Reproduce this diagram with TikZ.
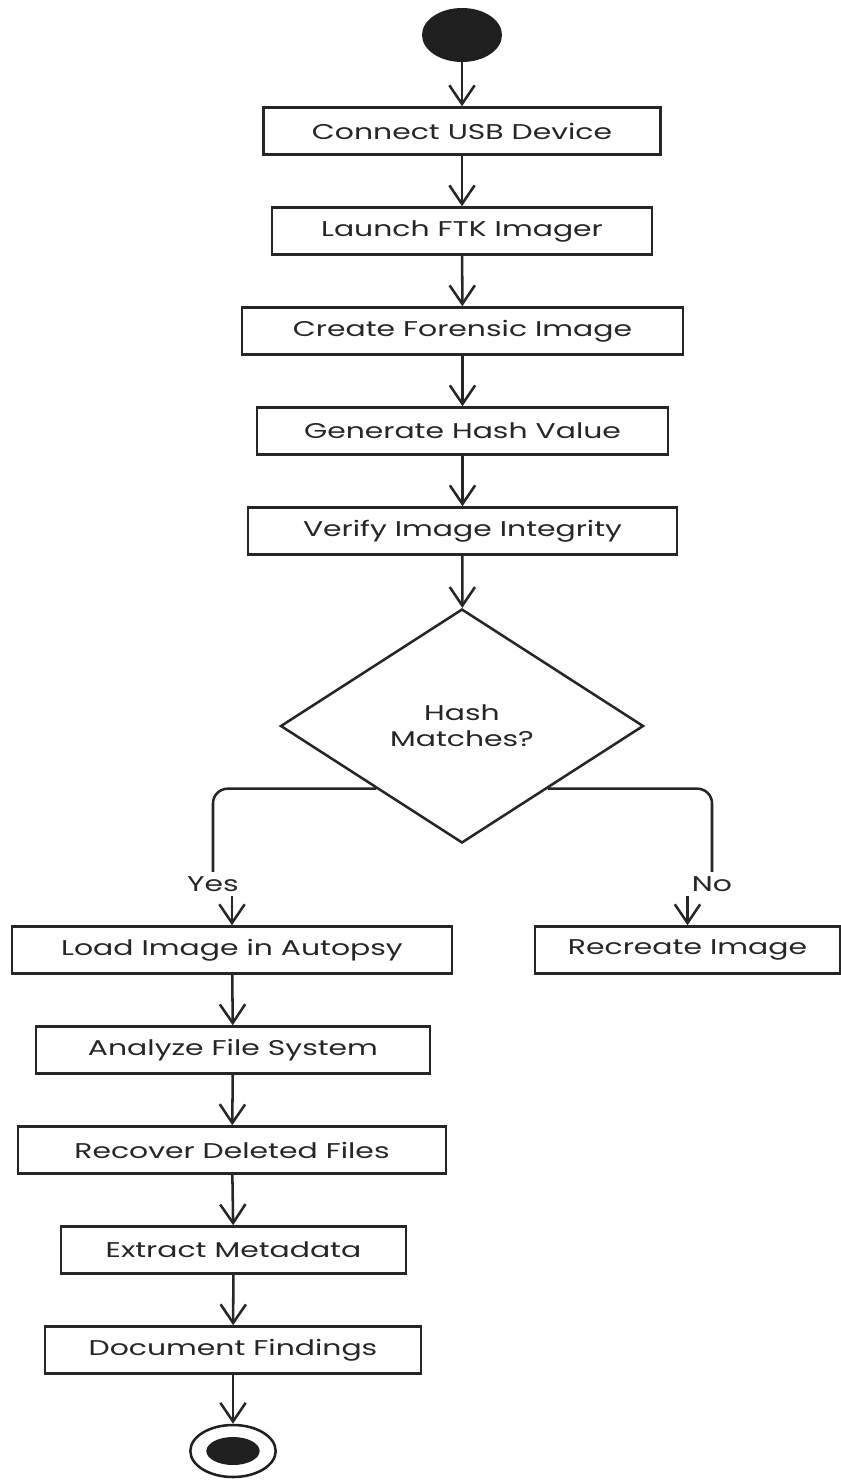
\documentclass[tikz,border=0pt]{standalone}
\usepackage{fontspec}
\setmainfont{Poppins}[FakeStretch=1.4]
\usetikzlibrary{arrows.meta,shapes.geometric,calc}
\begin{document}
\begin{tikzpicture}[x=0.75pt,y=-0.75pt,
  every node/.style={font=\fontsize{16}{19.5}\selectfont, text=black!85},
  actbox/.style={draw=black!85, line width=1.9pt, minimum height=35.25pt, inner sep=0pt},
  arr/.style={draw=black!85, line width=1.9pt, -{Straight Barb[length=14pt,width=19pt,line width=1.9pt]}},
  link/.style={draw=black!85, line width=1.9pt, rounded corners=11pt}]
\useasboundingbox (0,0) rectangle (841,1480);

% start marker
\node[ellipse, fill=black!88, minimum width=60pt, minimum height=40.5pt, inner sep=0pt] (start) at (462,35) {};

% main sequence
\node[actbox, minimum width=297.75pt] (usb) at (462,131) {Connect USB Device};
\node[actbox, minimum width=285pt] (ftk) at (462,231) {Launch FTK Imager};
\node[actbox, minimum width=330.75pt] (img) at (462.5,331) {Create Forensic Image};
\node[actbox, minimum width=308.25pt] (hash) at (462.5,431) {Generate Hash Value};
\node[actbox, minimum width=321.75pt] (ver) at (462.5,531) {Verify Image Integrity};

% decision
\node[diamond, draw=black!85, line width=1.9pt, inner sep=0pt, aspect=1.55,
      minimum width=272.25pt, minimum height=175.5pt, align=center] (dec) at (462,726) {Hash\\Matches?};

% yes branch
\node[actbox, minimum width=330pt] (load) at (232,950) {Load Image in Autopsy};
\node[actbox, minimum width=295.5pt] (fs) at (233,1050) {Analyze File System};
\node[actbox, minimum width=321pt] (rec) at (232,1150) {Recover Deleted Files};
\node[actbox, minimum width=258.75pt] (meta) at (233.5,1250) {Extract Metadata};
\node[actbox, minimum width=282pt] (doc) at (233,1350) {Document Findings};

% no branch
\node[actbox, minimum width=228.75pt] (redo) at (687.5,950) {Recreate Image};

% end marker
\node[ellipse, draw=black!88, line width=1.9pt, minimum width=64pt, minimum height=39pt, inner sep=0pt] (stop) at (233,1451) {};
\node[ellipse, fill=black!88, minimum width=40pt, minimum height=21pt, inner sep=0pt] (stopdot) at (233,1451) {};

% branch labels
\node (yes) at (213,884) {Yes};
\node (no) at (712,884) {No};

% connectors
\draw[arr] (start) -- (usb);
\draw[arr] (usb) -- (ftk);
\draw[arr] (ftk) -- (img);
\draw[arr] (img) -- (hash);
\draw[arr] (hash) -- (ver);
\draw[arr] (ver) -- (dec);

\coordinate (ycut) at ($(dec.west)!0.53!(dec.south)$);
\coordinate (ncut) at ($(dec.east)!0.53!(dec.south)$);
\draw[link] (ycut) -- (yes.center |- ycut) -- (yes.north);
\draw[link] (ncut) -- (no.center |- ncut) -- (no.north);
\draw[arr] (yes.south -| load.north) -- (load.north);
\draw[arr] (no.south -| redo.north) -- (redo.north);

\draw[arr] (load) -- (fs);
\draw[arr] (fs) -- (rec);
\draw[arr] (rec) -- (meta);
\draw[arr] (meta) -- (doc);
\draw[arr] (doc) -- (stop);
\end{tikzpicture}
\end{document}
